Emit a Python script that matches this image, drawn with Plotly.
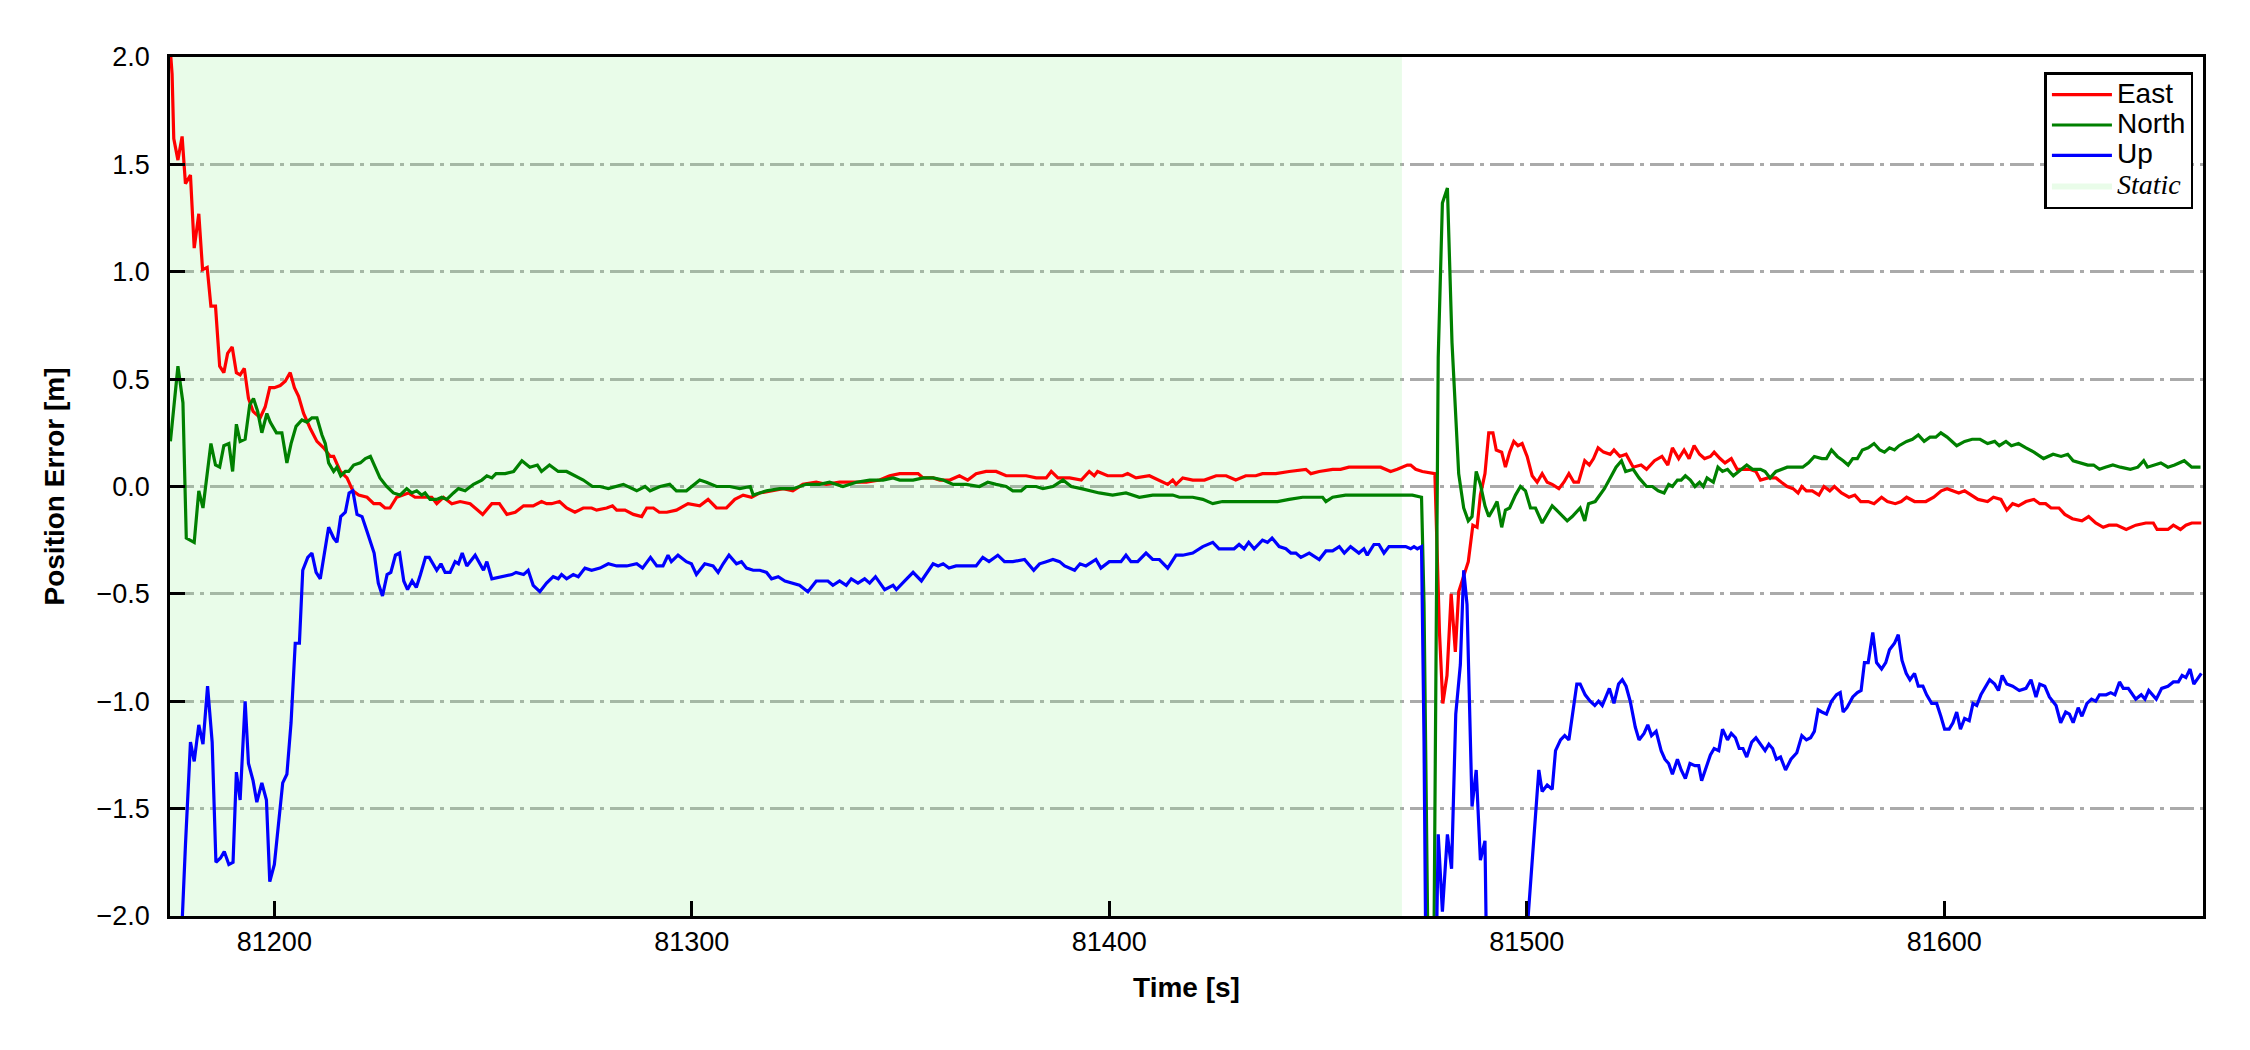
import plotly.graph_objects as go

# ---------------- data ----------------
X_RANGE = [81175.0, 81662.0]
Y_RANGE = [-2.0, 2.0]
X_TICKS = [81200, 81300, 81400, 81500, 81600]
Y_TICKS = [-2.0, -1.5, -1.0, -0.5, 0.0, 0.5, 1.0, 1.5, 2.0]
STATIC_START = 81175.0
STATIC_END = 81470.1

EAST_T = [81175.2, 81175.5, 81175.9, 81176.9, 81177.9, 81178.7, 81179.9, 81180.8, 81181.9, 81182.8,
          81183.9, 81184.8, 81185.9, 81186.9, 81187.9, 81188.8, 81189.9, 81190.9, 81191.8, 81192.8,
          81193.8, 81194.9, 81196.6, 81197.8, 81198.9, 81200.0, 81201.4, 81202.6, 81203.8, 81204.8,
          81205.8, 81207.0, 81208.6, 81210.2, 81211.8, 81213.4, 81214.2, 81215.8, 81217.4, 81218.8,
          81220.2, 81222.2, 81223.8, 81225.3, 81226.5, 81227.7, 81229.3, 81231.0, 81232.1, 81233.7,
          81235.7, 81237.7, 81238.9, 81240.5, 81242.5, 81244.5, 81246.9, 81249.9, 81252.1, 81253.9,
          81255.7, 81257.7, 81259.7, 81262.0, 81264.0, 81265.2, 81266.4, 81268.3, 81270.0, 81272.0,
          81274.0, 81276.0, 81277.2, 81279.6, 81281.0, 81282.0, 81284.0, 81286.0, 81288.0, 81289.2,
          81290.8, 81292.2, 81294.0, 81296.3, 81299.1, 81301.9, 81303.9, 81305.9, 81308.3, 81310.3,
          81312.3, 81314.3, 81316.3, 81318.7, 81321.9, 81324.2, 81326.6, 81329.8, 81332.2, 81335.4,
          81338.6, 81341.8, 81345.0, 81347.4, 81349.8, 81352.2, 81354.2, 81355.4, 81357.8, 81359.4,
          81361.8, 81364.1, 81366.1, 81368.1, 81370.5, 81372.9, 81375.3, 81377.7, 81380.1, 81382.5,
          81384.9, 81386.1, 81387.7, 81390.5, 81393.3, 81395.2, 81396.4, 81397.2, 81399.6, 81401.6,
          81403.2, 81404.4, 81406.4, 81409.6, 81412.0, 81414.0, 81415.2, 81416.0, 81417.6, 81420.0,
          81422.8, 81425.6, 81428.0, 81430.3, 81432.7, 81435.1, 81436.7, 81439.9, 81443.1, 81447.1,
          81448.3, 81450.3, 81453.5, 81455.4, 81457.4, 81459.8, 81462.2, 81465.0, 81467.4, 81469.0,
          81471.4, 81472.2, 81473.4, 81475.0, 81478.0, 81478.6, 81479.1, 81479.9, 81480.9, 81481.9,
          81482.9, 81483.7, 81484.9, 81486.0, 81487.1, 81488.1, 81488.9, 81490.0, 81490.9, 81491.9,
          81492.7, 81494.0, 81494.9, 81495.9, 81496.9, 81497.9, 81498.9, 81500.1, 81501.3, 81502.5,
          81503.7, 81504.9, 81506.1, 81507.7, 81508.9, 81510.1, 81511.3, 81512.4, 81513.9, 81515.0,
          81516.0, 81517.1, 81518.4, 81520.0, 81520.9, 81522.3, 81523.8, 81525.5, 81527.4, 81528.7,
          81530.6, 81532.4, 81533.8, 81534.9, 81536.4, 81537.7, 81538.9, 81540.1, 81541.4, 81542.6,
          81544.0, 81544.9, 81546.3, 81547.5, 81549.0, 81550.4, 81551.8, 81553.4, 81554.9, 81556.0,
          81557.8, 81559.7, 81561.0, 81562.4, 81563.8, 81565.0, 81565.9, 81567.0, 81568.4, 81570.0,
          81571.2, 81572.6, 81573.7, 81575.4, 81577.2, 81578.6, 81580.0, 81581.8, 81583.2, 81585.0,
          81586.4, 81588.3, 81589.7, 81591.0, 81592.9, 81595.6, 81597.5, 81599.3, 81600.7, 81602.1,
          81603.5, 81604.9, 81606.5, 81608.1, 81610.4, 81611.8, 81613.6, 81615.0, 81616.4, 81617.8,
          81619.6, 81621.5, 81622.9, 81624.3, 81625.6, 81627.5, 81628.9, 81630.7, 81633.0, 81634.6,
          81636.3, 81638.1, 81639.5, 81641.3, 81643.6, 81645.9, 81648.3, 81650.1, 81651.0, 81653.6,
          81654.9, 81656.6, 81657.9, 81659.3, 81661.6]
EAST_V = [2.00, 1.92, 1.62, 1.52, 1.63, 1.41, 1.45, 1.11, 1.27, 1.01,
          1.02, 0.84, 0.84, 0.56, 0.53, 0.62, 0.65, 0.53, 0.52, 0.55,
          0.41, 0.35, 0.32, 0.37, 0.46, 0.46, 0.47, 0.49, 0.53, 0.46,
          0.42, 0.34, 0.27, 0.21, 0.18, 0.14, 0.14, 0.07, 0.04, -0.02,
          -0.04, -0.05, -0.08, -0.08, -0.10, -0.10, -0.05, -0.04, -0.03, -0.05,
          -0.05, -0.05, -0.08, -0.05, -0.08, -0.07, -0.08, -0.13, -0.08, -0.08,
          -0.13, -0.12, -0.09, -0.09, -0.07, -0.08, -0.08, -0.07, -0.10, -0.12,
          -0.10, -0.10, -0.11, -0.10, -0.09, -0.11, -0.11, -0.13, -0.14, -0.10,
          -0.10, -0.12, -0.12, -0.11, -0.08, -0.09, -0.06, -0.10, -0.10, -0.06,
          -0.04, -0.05, -0.03, -0.02, -0.01, -0.02, 0.01, 0.02, 0.01, 0.02,
          0.02, 0.02, 0.03, 0.05, 0.06, 0.06, 0.06, 0.04, 0.04, 0.03,
          0.03, 0.05, 0.03, 0.06, 0.07, 0.07, 0.05, 0.05, 0.05, 0.04,
          0.04, 0.07, 0.04, 0.04, 0.03, 0.07, 0.05, 0.07, 0.05, 0.05,
          0.05, 0.06, 0.04, 0.05, 0.03, 0.01, 0.03, 0.01, 0.04, 0.03,
          0.03, 0.05, 0.05, 0.03, 0.05, 0.05, 0.06, 0.06, 0.07, 0.08,
          0.06, 0.07, 0.08, 0.08, 0.09, 0.09, 0.09, 0.09, 0.07, 0.08,
          0.10, 0.10, 0.08, 0.07, 0.06, -0.30, -0.68, -1.01, -0.88, -0.50,
          -0.77, -0.49, -0.42, -0.35, -0.18, -0.19, -0.04, 0.06, 0.25, 0.25,
          0.17, 0.16, 0.09, 0.16, 0.21, 0.19, 0.20, 0.14, 0.05, 0.02,
          0.06, 0.02, 0.01, -0.01, 0.02, 0.06, 0.02, 0.02, 0.12, 0.10,
          0.13, 0.18, 0.16, 0.15, 0.17, 0.14, 0.15, 0.09, 0.10, 0.08,
          0.12, 0.14, 0.10, 0.18, 0.13, 0.17, 0.13, 0.19, 0.15, 0.13,
          0.14, 0.16, 0.13, 0.11, 0.13, 0.08, 0.08, 0.08, 0.07, 0.03,
          0.04, 0.04, 0.02, 0.00, -0.01, -0.03, 0.00, -0.02, -0.02, -0.04,
          0.00, -0.02, 0.00, -0.03, -0.05, -0.04, -0.07, -0.07, -0.08, -0.05,
          -0.07, -0.08, -0.07, -0.05, -0.07, -0.07, -0.05, -0.02, -0.01, -0.02,
          -0.03, -0.02, -0.04, -0.06, -0.07, -0.05, -0.06, -0.11, -0.08, -0.09,
          -0.07, -0.06, -0.08, -0.08, -0.10, -0.10, -0.13, -0.15, -0.16, -0.14,
          -0.17, -0.19, -0.18, -0.18, -0.20, -0.18, -0.17, -0.17, -0.20, -0.20,
          -0.18, -0.20, -0.18, -0.17, -0.17]

NORTH_T = [81175.1, 81176.9, 81178.1, 81178.9, 81180.8, 81181.9, 81182.9, 81183.9, 81184.8, 81185.9,
           81186.9, 81187.9, 81189.1, 81190.0, 81190.9, 81191.8, 81193.0, 81194.1, 81195.0, 81196.0,
           81197.0, 81198.2, 81199.0, 81200.5, 81201.8, 81203.0, 81204.0, 81205.2, 81206.6, 81207.8,
           81209.0, 81210.2, 81211.4, 81212.2, 81213.0, 81214.2, 81215.0, 81215.9, 81217.0, 81217.8,
           81219.0, 81220.6, 81221.8, 81223.0, 81224.1, 81225.3, 81226.9, 81228.5, 81230.1, 81231.7,
           81232.9, 81234.1, 81235.3, 81236.1, 81237.3, 81238.9, 81240.1, 81241.3, 81242.9, 81244.1,
           81245.7, 81247.7, 81249.7, 81250.9, 81252.1, 81253.1, 81255.3, 81257.3, 81259.3, 81261.2,
           81263.0, 81264.0, 81265.9, 81268.0, 81270.0, 81272.0, 81274.0, 81276.2, 81278.0, 81280.0,
           81283.6, 81286.8, 81288.8, 81290.0, 81292.4, 81294.7, 81296.3, 81298.7, 81301.9, 81303.5,
           81305.9, 81309.1, 81311.5, 81314.0, 81314.7, 81317.9, 81321.1, 81324.2, 81327.4, 81330.6,
           81333.0, 81336.2, 81339.4, 81342.6, 81345.8, 81348.2, 81349.8, 81353.0, 81355.4, 81357.8,
           81360.2, 81362.6, 81365.7, 81368.9, 81370.9, 81372.9, 81375.3, 81376.9, 81378.9, 81380.1,
           81382.5, 81384.1, 81386.5, 81388.9, 81390.9, 81393.3, 81395.2, 81397.6, 81400.8, 81404.0,
           81407.2, 81410.4, 81412.8, 81415.2, 81416.8, 81420.0, 81422.4, 81424.8, 81427.1, 81429.5,
           81431.9, 81435.1, 81437.5, 81440.3, 81443.1, 81446.3, 81448.7, 81451.1, 81451.9, 81453.5,
           81456.6, 81459.8, 81462.2, 81465.4, 81468.6, 81471.4, 81472.6, 81474.8, 81475.4, 81476.6,
           81477.6, 81478.8, 81479.8, 81481.0, 81482.1, 81483.7, 81484.9, 81486.0, 81486.9, 81487.9,
           81488.9, 81490.0, 81490.9, 81492.1, 81492.9, 81494.0, 81494.9, 81495.9, 81497.3, 81498.5,
           81499.7, 81500.9, 81502.1, 81503.7, 81504.9, 81506.1, 81507.7, 81509.7, 81510.9, 81512.8,
           81513.9, 81514.8, 81516.4, 81518.6, 81520.0, 81521.4, 81522.7, 81523.7, 81525.5, 81526.9,
           81528.7, 81530.1, 81531.5, 81532.9, 81534.0, 81534.9, 81536.1, 81537.0, 81538.0, 81539.2,
           81540.3, 81541.4, 81542.3, 81543.2, 81544.7, 81545.8, 81546.9, 81548.1, 81549.5, 81550.9,
           81552.7, 81554.1, 81556.0, 81557.1, 81558.3, 81559.7, 81561.0, 81562.4, 81564.3, 81566.1,
           81567.5, 81568.9, 81570.7, 81571.8, 81573.0, 81574.4, 81575.8, 81577.0, 81578.1, 81579.2,
           81580.4, 81581.8, 81583.2, 81584.6, 81585.7, 81586.9, 81588.1, 81589.2, 81591.0, 81592.4,
           81593.8, 81595.2, 81596.6, 81598.0, 81599.2, 81600.7, 81603.0, 81604.9, 81606.7, 81608.6,
           81610.4, 81612.1, 81613.2, 81614.8, 81616.1, 81617.8, 81619.6, 81621.5, 81623.8, 81626.1,
           81628.0, 81629.6, 81630.9, 81632.6, 81634.4, 81635.8, 81637.2, 81638.6, 81640.4, 81642.2,
           81644.6, 81646.4, 81647.8, 81648.7, 81650.1, 81651.9, 81653.6, 81655.2, 81657.5, 81659.3,
           81661.4]
NORTH_V = [0.21, 0.56, 0.39, -0.24, -0.26, -0.02, -0.10, 0.07, 0.20, 0.10,
           0.09, 0.19, 0.20, 0.07, 0.29, 0.21, 0.22, 0.38, 0.41, 0.35,
           0.25, 0.34, 0.30, 0.25, 0.25, 0.11, 0.20, 0.28, 0.31, 0.30,
           0.32, 0.32, 0.24, 0.20, 0.11, 0.07, 0.09, 0.05, 0.07, 0.07,
           0.10, 0.11, 0.13, 0.14, 0.09, 0.04, 0.00, -0.03, -0.04, -0.01,
           -0.03, -0.02, -0.04, -0.03, -0.06, -0.06, -0.05, -0.06, -0.03, -0.01,
           -0.02, 0.01, 0.03, 0.05, 0.04, 0.06, 0.06, 0.07, 0.12, 0.09,
           0.10, 0.07, 0.10, 0.07, 0.07, 0.05, 0.03, 0.00, 0.00, -0.01,
           0.01, -0.02, 0.00, -0.02, 0.00, 0.01, -0.02, -0.02, 0.03, 0.02,
           0.00, 0.00, -0.01, 0.00, -0.04, -0.02, -0.01, -0.01, 0.01, 0.01,
           0.02, 0.00, 0.02, 0.03, 0.03, 0.04, 0.03, 0.03, 0.04, 0.04,
           0.03, 0.01, 0.01, 0.00, 0.02, 0.01, 0.00, -0.02, -0.02, 0.00,
           0.00, -0.01, 0.00, 0.03, 0.00, -0.01, -0.02, -0.03, -0.04, -0.03,
           -0.05, -0.04, -0.04, -0.04, -0.05, -0.05, -0.06, -0.08, -0.07, -0.07,
           -0.07, -0.07, -0.07, -0.07, -0.06, -0.05, -0.05, -0.05, -0.07, -0.05,
           -0.04, -0.04, -0.04, -0.04, -0.04, -0.04, -0.04, -0.05, -0.55, -2.60,
           -2.60, 0.60, 1.32, 1.39, 0.67, 0.06, -0.10, -0.16, -0.14, 0.07,
           0.01, -0.09, -0.14, -0.10, -0.07, -0.19, -0.11, -0.10, -0.04, 0.00,
           -0.02, -0.10, -0.10, -0.17, -0.13, -0.09, -0.12, -0.16, -0.14, -0.10,
           -0.16, -0.08, -0.07, -0.01, 0.04, 0.09, 0.12, 0.07, 0.08, 0.04,
           0.00, 0.00, -0.02, -0.03, 0.01, 0.00, 0.03, 0.03, 0.05, 0.03,
           0.00, 0.02, 0.00, 0.04, 0.02, 0.09, 0.07, 0.08, 0.05, 0.07,
           0.10, 0.08, 0.08, 0.07, 0.04, 0.07, 0.08, 0.09, 0.09, 0.09,
           0.11, 0.14, 0.13, 0.13, 0.17, 0.14, 0.12, 0.10, 0.13, 0.13,
           0.17, 0.18, 0.20, 0.17, 0.16, 0.18, 0.17, 0.19, 0.21, 0.22,
           0.24, 0.21, 0.23, 0.23, 0.25, 0.23, 0.19, 0.21, 0.22, 0.22,
           0.20, 0.21, 0.19, 0.21, 0.19, 0.20, 0.18, 0.16, 0.13, 0.15,
           0.14, 0.15, 0.12, 0.11, 0.10, 0.10, 0.08, 0.09, 0.10, 0.09,
           0.08, 0.09, 0.12, 0.09, 0.10, 0.11, 0.09, 0.10, 0.12, 0.09,
           0.09]

UP_T = [81175.3, 81177.9, 81178.7, 81179.9, 81180.8, 81181.9, 81182.9, 81184.0, 81185.1, 81186.0,
        81187.1, 81188.0, 81189.1, 81190.1, 81190.9, 81191.8, 81193.0, 81193.8, 81194.9, 81195.8,
        81197.0, 81198.1, 81198.9, 81200.0, 81201.0, 81202.0, 81203.0, 81204.0, 81205.0, 81206.0,
        81206.8, 81208.0, 81209.0, 81210.0, 81211.0, 81212.0, 81213.0, 81214.2, 81215.0, 81215.9,
        81217.0, 81217.9, 81218.8, 81219.8, 81221.0, 81222.2, 81223.1, 81223.9, 81224.9, 81225.9,
        81227.0, 81227.9, 81229.0, 81230.0, 81231.0, 81231.9, 81233.0, 81234.0, 81235.0, 81236.2,
        81237.1, 81238.1, 81238.9, 81239.9, 81240.9, 81242.1, 81243.3, 81244.1, 81245.0, 81246.1,
        81248.1, 81250.1, 81250.9, 81252.1, 81254.9, 81256.9, 81257.9, 81259.7, 81260.8, 81262.0,
        81263.6, 81265.2, 81266.8, 81268.0, 81268.8, 81270.0, 81271.6, 81272.8, 81274.4, 81276.0,
        81278.0, 81280.0, 81282.0, 81284.4, 81286.8, 81288.2, 81290.1, 81291.6, 81293.1, 81294.3,
        81295.1, 81296.7, 81298.7, 81299.9, 81301.1, 81303.1, 81305.1, 81306.3, 81307.5, 81308.9,
        81310.7, 81311.9, 81313.1, 81314.7, 81316.3, 81317.9, 81319.1, 81320.7, 81322.3, 81324.2,
        81325.8, 81327.8, 81329.8, 81332.6, 81333.8, 81335.4, 81337.0, 81338.2, 81339.8, 81341.4,
        81342.6, 81344.0, 81346.2, 81348.2, 81349.0, 81351.0, 81353.0, 81355.0, 81357.8, 81359.0,
        81360.2, 81361.6, 81363.3, 81364.9, 81366.5, 81368.1, 81369.7, 81371.2, 81373.3, 81374.9,
        81376.9, 81379.7, 81381.9, 81383.3, 81384.9, 81386.5, 81388.1, 81389.3, 81391.7, 81393.0,
        81394.4, 81396.8, 81398.0, 81400.0, 81401.6, 81402.8, 81404.0, 81405.2, 81406.8, 81408.8,
        81410.4, 81412.0, 81414.0, 81416.0, 81417.6, 81420.0, 81422.4, 81424.8, 81426.3, 81427.9,
        81429.9, 81431.1, 81432.3, 81433.4, 81434.7, 81436.7, 81437.9, 81439.0, 81440.7, 81442.3,
        81443.5, 81444.7, 81445.9, 81447.9, 81450.3, 81451.9, 81453.5, 81455.1, 81456.3, 81457.8,
        81459.8, 81461.0, 81461.8, 81463.4, 81464.6, 81465.8, 81467.0, 81469.4, 81471.0, 81472.2,
        81473.0, 81473.8, 81474.8, 81475.4, 81476.0, 81478.0, 81478.8, 81479.8, 81481.0, 81482.0,
        81483.0, 81484.1, 81484.9, 81485.7, 81486.3, 81486.9, 81487.9, 81488.9, 81490.0, 81490.8,
        81499.6, 81502.9, 81503.7, 81504.9, 81506.1, 81506.9, 81508.1, 81509.1, 81510.1, 81510.9,
        81512.0, 81512.8, 81514.0, 81515.2, 81516.3, 81517.2, 81518.1, 81519.8, 81520.9, 81522.0,
        81522.9, 81523.8, 81524.8, 81526.0, 81526.9, 81528.1, 81529.0, 81529.9, 81531.0, 81532.2,
        81533.1, 81534.0, 81534.9, 81536.1, 81537.0, 81538.0, 81539.1, 81540.3, 81541.2, 81541.9,
        81543.0, 81544.0, 81544.9, 81546.0, 81546.9, 81548.1, 81549.0, 81550.0, 81550.9, 81551.8,
        81552.7, 81553.9, 81554.9, 81556.0, 81557.1, 81558.0, 81558.9, 81559.8, 81560.8, 81562.0,
        81563.3, 81564.7, 81565.9, 81567.0, 81568.0, 81568.9, 81569.8, 81570.7, 81571.8, 81573.0,
        81574.2, 81575.1, 81575.8, 81576.7, 81578.1, 81579.2, 81580.1, 81580.9, 81581.8, 81582.9,
        81583.8, 81585.0, 81586.0, 81586.9, 81588.1, 81589.0, 81589.9, 81590.9, 81591.8, 81592.9,
        81593.8, 81594.9, 81595.8, 81597.0, 81598.2, 81599.2, 81600.1, 81601.2, 81602.1, 81603.0,
        81603.9, 81604.9, 81606.0, 81606.9, 81607.8, 81608.8, 81609.7, 81610.9, 81612.1, 81613.0,
        81613.9, 81615.0, 81616.4, 81618.0, 81619.6, 81620.8, 81622.0, 81622.9, 81624.1, 81625.2,
        81626.8, 81627.9, 81629.1, 81630.0, 81630.9, 81632.1, 81633.0, 81634.2, 81635.3, 81636.3,
        81637.2, 81638.8, 81639.9, 81640.9, 81642.0, 81642.9, 81644.1, 81645.9, 81647.2, 81648.1,
        81649.0, 81650.8, 81652.1, 81653.6, 81654.9, 81656.1, 81657.0, 81657.9, 81658.9, 81659.8,
        81661.6]
UP_V = [-3.20, -2.00, -1.67, -1.19, -1.28, -1.11, -1.20, -0.93, -1.19, -1.75,
        -1.73, -1.70, -1.76, -1.75, -1.33, -1.46, -1.00, -1.29, -1.37, -1.47,
        -1.38, -1.46, -1.84, -1.76, -1.57, -1.38, -1.34, -1.10, -0.73, -0.73,
        -0.39, -0.33, -0.31, -0.40, -0.43, -0.30, -0.19, -0.24, -0.26, -0.14,
        -0.12, -0.03, -0.02, -0.13, -0.14, -0.21, -0.27, -0.31, -0.45, -0.51,
        -0.41, -0.40, -0.32, -0.31, -0.44, -0.48, -0.44, -0.47, -0.41, -0.33,
        -0.33, -0.36, -0.39, -0.36, -0.40, -0.40, -0.35, -0.36, -0.31, -0.37,
        -0.32, -0.39, -0.35, -0.43, -0.42, -0.41, -0.40, -0.41, -0.39, -0.46,
        -0.49, -0.45, -0.42, -0.43, -0.41, -0.43, -0.41, -0.42, -0.38, -0.39,
        -0.38, -0.36, -0.37, -0.37, -0.36, -0.38, -0.33, -0.37, -0.37, -0.32,
        -0.35, -0.32, -0.35, -0.36, -0.41, -0.36, -0.37, -0.40, -0.36, -0.32,
        -0.36, -0.35, -0.38, -0.39, -0.39, -0.40, -0.43, -0.42, -0.44, -0.45,
        -0.46, -0.49, -0.44, -0.44, -0.46, -0.44, -0.46, -0.43, -0.45, -0.43,
        -0.45, -0.42, -0.48, -0.46, -0.48, -0.44, -0.40, -0.44, -0.36, -0.37,
        -0.36, -0.38, -0.37, -0.37, -0.37, -0.37, -0.33, -0.35, -0.32, -0.35,
        -0.35, -0.34, -0.39, -0.36, -0.35, -0.34, -0.35, -0.37, -0.39, -0.36,
        -0.37, -0.34, -0.38, -0.35, -0.35, -0.35, -0.32, -0.35, -0.35, -0.31,
        -0.34, -0.34, -0.38, -0.32, -0.32, -0.31, -0.28, -0.26, -0.29, -0.29,
        -0.29, -0.27, -0.29, -0.26, -0.29, -0.25, -0.26, -0.24, -0.28, -0.29,
        -0.31, -0.31, -0.33, -0.31, -0.34, -0.30, -0.30, -0.28, -0.31, -0.28,
        -0.31, -0.29, -0.32, -0.27, -0.27, -0.31, -0.28, -0.28, -0.28, -0.29,
        -0.28, -0.29, -0.28, -1.19, -2.60, -2.60, -1.62, -1.98, -1.62, -1.78,
        -1.06, -0.83, -0.39, -0.55, -1.06, -1.49, -1.32, -1.74, -1.65, -2.80,
        -2.20, -1.32, -1.42, -1.39, -1.41, -1.23, -1.18, -1.16, -1.18, -1.06,
        -0.92, -0.92, -0.97, -1.00, -1.02, -1.00, -1.02, -0.94, -1.01, -0.92,
        -0.90, -0.93, -1.00, -1.12, -1.18, -1.15, -1.11, -1.16, -1.14, -1.23,
        -1.27, -1.29, -1.34, -1.27, -1.32, -1.36, -1.29, -1.30, -1.30, -1.37,
        -1.31, -1.25, -1.22, -1.23, -1.13, -1.18, -1.15, -1.17, -1.22, -1.22,
        -1.26, -1.19, -1.17, -1.20, -1.23, -1.20, -1.22, -1.27, -1.26, -1.32,
        -1.27, -1.24, -1.16, -1.18, -1.17, -1.14, -1.04, -1.05, -1.06, -1.00,
        -0.97, -0.96, -1.05, -1.03, -0.98, -0.96, -0.95, -0.82, -0.82, -0.68,
        -0.82, -0.85, -0.82, -0.76, -0.73, -0.69, -0.81, -0.87, -0.90, -0.87,
        -0.93, -0.93, -0.97, -1.01, -1.01, -1.07, -1.13, -1.13, -1.10, -1.05,
        -1.13, -1.08, -1.09, -1.01, -1.02, -0.97, -0.94, -0.90, -0.92, -0.95,
        -0.88, -0.92, -0.93, -0.95, -0.94, -0.90, -0.98, -0.92, -0.93, -0.98,
        -1.02, -1.10, -1.05, -1.06, -1.10, -1.03, -1.07, -1.01, -0.99, -1.00,
        -0.97, -0.97, -0.96, -0.97, -0.91, -0.94, -0.94, -0.99, -0.97, -0.99,
        -0.95, -0.99, -0.94, -0.93, -0.91, -0.91, -0.88, -0.89, -0.85, -0.92,
        -0.87]

SERIES = [("East", EAST_T, EAST_V, "#ff0000"),
          ("North", NORTH_T, NORTH_V, "#008000"),
          ("Up", UP_T, UP_V, "#0000ff")]

SANS = "Liberation Sans, Arial, sans-serif"
SERIF = "Liberation Serif, Times New Roman, serif"
LEG_TXT = 28

# ---------------- figure ----------------
fig = go.Figure()

# static period (semi-transparent so the grid stays visible through it)
fig.add_trace(go.Scatter(
    x=[STATIC_START, STATIC_END, STATIC_END, STATIC_START, STATIC_START],
    y=[Y_RANGE[0], Y_RANGE[0], Y_RANGE[1], Y_RANGE[1], Y_RANGE[0]],
    mode="lines", fill="toself", fillcolor="rgba(144,238,144,0.2)",
    line=dict(width=0, color="rgba(0,0,0,0)"), hoverinfo="skip",
    name=f"<span style='font-family:{SERIF};font-size:{LEG_TXT}px'><i>Static</i></span>",
    legendrank=4))

for rank, (name, t, v, color) in enumerate(SERIES, start=1):
    fig.add_trace(go.Scatter(x=t, y=v, mode="lines",
                             name=f"<span style='font-size:{LEG_TXT}px'>{name}</span>",
                             line=dict(color=color, width=3.2),
                             legendrank=rank))

axis_common = dict(showline=True, linecolor="black", linewidth=2.5, mirror=True,
                   ticks="inside", ticklen=15, tickwidth=2.5, tickcolor="black",
                   tickfont=dict(family=SANS, size=27, color="black"),
                   zeroline=False, automargin=False)

fig.update_xaxes(range=X_RANGE, tickvals=X_TICKS, tickformat="d", showgrid=False,
                 title=dict(text="<b>Time [s]</b>", standoff=22,
                            font=dict(family=SANS, size=28, color="black")),
                 **axis_common)
fig.update_yaxes(range=Y_RANGE, tickvals=Y_TICKS, tickformat=".1f", showgrid=True,
                 gridcolor="#aaaaaa", gridwidth=2.5, griddash="24px,6px,4px,6px",
                 ticklabelstandoff=12,
                 title=dict(text="<b>Position Error [m]</b>", standoff=24,
                            font=dict(family=SANS, size=28, color="black")),
                 **axis_common)

# page body adds an 8px offset, so the figure is 8px smaller and margins shifted
fig.update_layout(
    width=2242, height=1042,
    margin=dict(l=162, r=47, t=49, b=134),
    paper_bgcolor="white", plot_bgcolor="white",
    font=dict(family=SANS, color="black"),
    legend=dict(x=0.922, y=0.9825, xanchor="left", yanchor="top",
                bgcolor="white", bordercolor="black", borderwidth=2.5,
                font=dict(family=SANS, size=21, color="black"),
                tracegroupgap=0, itemwidth=60),
)

fig.write_html("out.html")
